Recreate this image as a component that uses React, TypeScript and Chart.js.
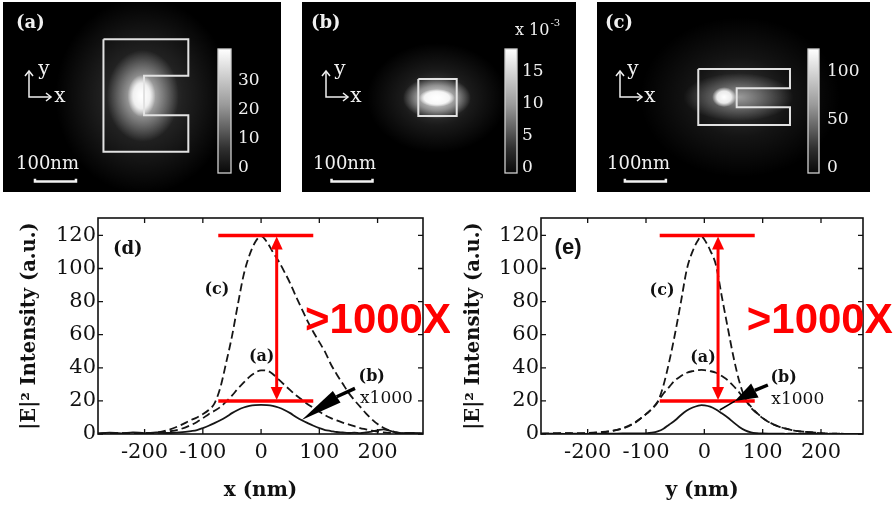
import React, { useEffect, useRef } from "react";
import { Chart, registerables } from "chart.js";

Chart.register(...registerables);

// ================= DATA =================
// Profile (d): |E|^2 along x (nm)
const gridD = [-280, -260, -240, -220, -200, -180, -160, -140, -120, -110, -100, -90, -80, -70, -60, -50, -40, -30, -20, -10, 0, 10, 20, 30, 40, 50, 60, 70, 80, 90, 100, 110, 120, 130, 140, 150, 160, 170, 180, 190, 200, 210, 220, 230, 240, 260, 278];
const dCurveC = [0.2, 0.5, 0.3, 0.6, 0.3, 0.8, 2.4, 5, 8.5, 10, 12, 14.5, 18.5, 28, 43, 59, 78, 96, 108, 116, 119.5, 116, 110, 104.5, 98, 91, 83, 75.5, 68, 61.5, 55.5, 49.5, 42, 36, 30.5, 25, 20.5, 16.5, 12.5, 9, 6, 3.8, 2.2, 1.2, 0.5, 0.3, 0.2];
const dCurveA = [0.2, 0.3, 0.5, 0.3, 0.6, 0.8, 1.5, 2.8, 5.5, 7.3, 9.5, 12, 14, 16.3, 19.5, 23.2, 27.3, 31, 34.5, 37, 38.5, 38.3, 36.3, 33, 29.7, 26.5, 23.4, 20.7, 18, 15.8, 13.5, 11.3, 9.6, 8.2, 6.9, 5.8, 4.7, 3.6, 2.8, 2, 1.4, 1, 0.7, 0.5, 0.4, 0.3, 0.2];
const dCurveB = [0.3, 0.8, 0.4, 1.0, 0.5, 0.9, 0.6, 1.0, 1.8, 2.4, 3.6, 5, 6.6, 8.3, 10.3, 12.6, 14.5, 16, 17, 17.5, 17.6, 17.5, 17, 16, 14.5, 12.6, 10.3, 8.3, 6.6, 5, 3.6, 2.4, 1.8, 1.2, 0.9, 0.6, 0.8, 0.5, 0.9, 1.5, 2.2, 2.8, 2.0, 1.0, 0.5, 0.7, 0.3];

// Profile (e): |E|^2 along y (nm)
const gridE = [-280, -260, -240, -220, -200, -180, -160, -140, -120, -110, -100, -90, -80, -70, -60, -50, -40, -30, -20, -10, -5, 0, 10, 20, 30, 40, 50, 60, 70, 80, 90, 100, 110, 120, 130, 140, 150, 160, 170, 180, 190, 200, 210, 220, 230, 240, 260, 272];
const eCurveC = [0.2, 0.3, 0.5, 0.4, 0.6, 1.1, 1.8, 3.5, 6.8, 9.2, 12, 15.3, 19.3, 29.5, 44, 61, 80, 99.5, 110.5, 117.5, 119.4, 117.5, 111, 102, 83, 64.5, 46.5, 31.7, 21.5, 15.8, 12.6, 9.6, 7.4, 5.6, 4.2, 3.2, 2.4, 1.8, 1.4, 1.1, 0.8, 0.5, 0.3, 0.2, 0.2, 0.1, 0.1, 0.1];
const eCurveA = [0.2, 0.3, 0.4, 0.3, 0.5, 0.9, 1.7, 3.3, 6.5, 9.1, 12, 15, 19.5, 24.5, 28.5, 32.5, 35, 37, 38, 38.6, 38.7, 38.6, 38, 37, 35, 32.5, 29, 25, 20.5, 16.5, 12.8, 9.7, 7.3, 5.5, 4.2, 3.2, 2.4, 1.8, 1.4, 1.1, 0.8, 0.5, 0.3, 0.2, 0.2, 0.1, 0.1, 0.1];
const eCurveB = [0.1, 0.2, 0.1, 0.2, 0.1, 0.2, 0.2, 0.3, 0.3, 0.3, 0.4, 0.8, 1.6, 3.2, 5.8, 8.3, 11.5, 14.2, 16, 17.2, 17.5, 17.3, 16.5, 14.8, 12.5, 10, 7, 4.3, 2.2, 1, 0.5, 0.3, 0.2, 0.2, 0.2, 0.1, 0.2, 0.1, 0.2, 0.1, 0.2, 0.1, 0.1, 0.1, 0.1, 0.1, 0.1, 0.1];

const profileXTicks = [-200, -100, 0, 100, 200];
const profileYTicks = [0, 20, 40, 60, 80, 100, 120];
const enhancementLevels = [120, 20];

// Field maps (nm coordinates inside each panel)
const outlineA = [[245, 91], [452, 91], [452, 180], [344, 180], [344, 276], [452, 276], [452, 365], [245, 365], [245, 91]];
const outlineB = [[283.7, 187.8], [377.3, 187.8], [377.3, 278], [283.7, 278], [283.7, 187.8]];
const outlineC = [[247, 163.4], [470.7, 163.4], [470.7, 210.5], [340.7, 210.5], [340.7, 256.8], [470.7, 256.8], [470.7, 300], [247, 300], [247, 163.4]];
const scaleBarStartsNm = [78, 72, 68];
const scaleBarLengthNm = 100;
const colorbarTicksA = [0, 10, 20, 30];
const colorbarTicksB = [0, 5, 10, 15];
const colorbarTicksC = [0, 50, 100];
const colorbarMaxA = 41;
const colorbarMaxB = 18.6;
const colorbarMaxC = 123;

// ================= STYLE / LAYOUT =================
const SERIF = '"DejaVu Serif", "Liberation Serif", serif';
const SANS = '"Liberation Sans", Arial, sans-serif';
const PX_PER_NM = 0.41;
const PANEL_TOP = 2;
const PANEL_H = 190;
const CB_TOP = 47;
const CB_BOTTOM = 171;
const CB_ZERO = 166;
const SCALEBAR_Y_NM = 438;

const pts = (xs: number[], ys: number[]) => xs.map((v, i) => ({ x: v, y: ys[i] }));

type Glow = { x: number; y: number; rx: number; ry: number; stops: number[][] };

const panels = [
  {
    key: "a", left: 3, width: 278, label: "(a)", labelX: 13, outline: outlineA, barStart: scaleBarStartsNm[0],
    glows: [
      { x: 342, y: 229, rx: 88, ry: 98, stops: [[0, 0.32], [0.45, 0.13], [1, 0]] },
      { x: 341, y: 229, rx: 36, ry: 46, stops: [[0, 0.8], [0.5, 0.38], [1, 0]] },
      { x: 338, y: 229, rx: 14, ry: 21, stops: [[0, 1], [0.6, 0.8], [1, 0]] },
    ] as Glow[],
    cb: { x: 215, w: 13, ticks: colorbarTicksA, max: colorbarMaxA, labelX: 235 },
    icon: { ox: 26, oy: 95, up: 26, right: 22, yx: 41, yy: 68, xx: 57, xy: 95 },
    nmX: 13, exponent: false,
  },
  {
    key: "b", left: 302, width: 274, label: "(b)", labelX: 9, outline: outlineB, barStart: scaleBarStartsNm[1],
    glows: [
      { x: 329, y: 234, rx: 70, ry: 55, stops: [[0, 0.3], [0.5, 0.1], [1, 0]] },
      { x: 329, y: 234, rx: 34, ry: 21, stops: [[0, 0.9], [0.6, 0.45], [1, 0]] },
      { x: 329, y: 234, rx: 18, ry: 9, stops: [[0, 1], [0.7, 0.85], [1, 0]] },
    ] as Glow[],
    cb: { x: 203, w: 12, ticks: colorbarTicksB, max: colorbarMaxB, labelX: 220 },
    icon: { ox: 24, oy: 95, up: 26, right: 22, yx: 38, yy: 68, xx: 54, xy: 95 },
    nmX: 11, exponent: true,
  },
  {
    key: "c", left: 597, width: 273, label: "(c)", labelX: 8, outline: outlineC, barStart: scaleBarStartsNm[2],
    glows: [
      { x: 349, y: 232, rx: 100, ry: 80, stops: [[0, 0.22], [0.5, 0.08], [1, 0]] },
      { x: 345, y: 232, rx: 55, ry: 24, stops: [[0, 0.5], [0.6, 0.2], [1, 0]] },
      { x: 310, y: 232, rx: 12, ry: 10, stops: [[0, 1], [0.6, 0.85], [1, 0]] },
    ] as Glow[],
    cb: { x: 211, w: 11, ticks: colorbarTicksC, max: colorbarMaxC, labelX: 230 },
    icon: { ox: 23, oy: 95, up: 26, right: 22, yx: 36, yy: 68, xx: 53, xy: 95 },
    nmX: 10, exponent: false,
  },
];

function drawOpenArrowHead(ctx: CanvasRenderingContext2D, x: number, y: number, dir: "up" | "right") {
  ctx.beginPath();
  if (dir === "up") {
    ctx.moveTo(x - 4, y + 5); ctx.lineTo(x, y); ctx.lineTo(x + 4, y + 5);
  } else {
    ctx.moveTo(x - 5, y - 4); ctx.lineTo(x, y); ctx.lineTo(x - 5, y + 4);
  }
  ctx.stroke();
}

function makePanelPlugin(p: any) {
  return {
    id: "panelDecor" + p.key,
    beforeDatasetsDraw(chart: any) {
      const { ctx, scales } = chart;
      ctx.save();
      ctx.fillStyle = "#000";
      ctx.fillRect(0, 0, chart.width, chart.height);
      for (const g of p.glows as Glow[]) {
        const cx = scales.x.getPixelForValue(g.x);
        const cy = scales.y.getPixelForValue(g.y);
        ctx.save();
        ctx.translate(cx, cy);
        ctx.scale(1, g.ry / g.rx);
        const grad = ctx.createRadialGradient(0, 0, 0, 0, 0, g.rx);
        for (const [o, a] of g.stops) grad.addColorStop(o, `rgba(255,255,255,${a})`);
        ctx.fillStyle = grad;
        ctx.beginPath();
        ctx.arc(0, 0, g.rx, 0, Math.PI * 2);
        ctx.fill();
        ctx.restore();
      }
      ctx.restore();
    },
    afterDatasetsDraw(chart: any) {
      const { ctx } = chart;
      ctx.save();
      // colorbar
      const cb = p.cb;
      const grad = ctx.createLinearGradient(0, CB_TOP, 0, CB_BOTTOM);
      grad.addColorStop(0, "#ffffff");
      grad.addColorStop(0.45, "#9a9a9a");
      grad.addColorStop(0.8, "#303030");
      grad.addColorStop(1, "#080808");
      ctx.fillStyle = grad;
      ctx.fillRect(cb.x, CB_TOP, cb.w, CB_BOTTOM - CB_TOP);
      ctx.strokeStyle = "#d0d0d0";
      ctx.lineWidth = 1.3;
      ctx.strokeRect(cb.x, CB_TOP, cb.w, CB_BOTTOM - CB_TOP);
      ctx.fillStyle = "#f0f0f0";
      ctx.font = `17px ${SERIF}`;
      ctx.textAlign = "left";
      ctx.textBaseline = "middle";
      for (const t of cb.ticks) {
        const yy = CB_ZERO - (t / cb.max) * (CB_ZERO - CB_TOP);
        ctx.fillText(String(t), cb.labelX, yy);
      }
      if (p.exponent) {
        ctx.textBaseline = "alphabetic";
        ctx.font = `16px ${SERIF}`;
        ctx.fillText("x 10", 213, 33);
        const w = ctx.measureText("x 10").width;
        ctx.font = `10px ${SERIF}`;
        ctx.fillText("-3", 213 + w + 1, 24);
      }
      // panel label
      ctx.font = `bold 18px ${SERIF}`;
      ctx.textBaseline = "middle";
      ctx.fillStyle = "#f0f0f0";
      ctx.fillText(p.label, p.labelX, 21);
      // axes icon
      const ic = p.icon;
      ctx.strokeStyle = "#f0f0f0";
      ctx.lineWidth = 1.5;
      ctx.beginPath();
      ctx.moveTo(ic.ox, ic.oy - ic.up);
      ctx.lineTo(ic.ox, ic.oy);
      ctx.lineTo(ic.ox + ic.right, ic.oy);
      ctx.stroke();
      drawOpenArrowHead(ctx, ic.ox, ic.oy - ic.up, "up");
      drawOpenArrowHead(ctx, ic.ox + ic.right, ic.oy, "right");
      ctx.font = `20px ${SERIF}`;
      ctx.textAlign = "center";
      ctx.fillText("y", ic.yx, ic.yy);
      ctx.fillText("x", ic.xx, ic.xy);
      // scale bar caption
      ctx.textAlign = "left";
      ctx.textBaseline = "alphabetic";
      ctx.font = `18px ${SERIF}`;
      ctx.fillText("100nm", p.nmX, 167);
      ctx.restore();
    },
  };
}

function buildPanelConfig(p: any): any {
  const wNm = p.width / PX_PER_NM;
  const hNm = PANEL_H / PX_PER_NM;
  const y0 = SCALEBAR_Y_NM;
  return {
    type: "scatter",
    data: {
      datasets: [
        {
          label: "outline",
          data: p.outline.map(([x, y]: number[]) => ({ x, y })),
          showLine: true,
          borderColor: "#e2e2e2",
          borderWidth: 2,
          pointRadius: 0,
          tension: 0,
        },
        {
          label: "scale bar",
          data: [
            { x: p.barStart, y: y0 - 7 },
            { x: p.barStart, y: y0 },
            { x: p.barStart + scaleBarLengthNm, y: y0 },
            { x: p.barStart + scaleBarLengthNm, y: y0 - 7 },
          ],
          showLine: true,
          borderColor: "#f2f2f2",
          borderWidth: 2.5,
          pointRadius: 0,
          tension: 0,
        },
      ],
    },
    options: {
      animation: false,
      responsive: false,
      devicePixelRatio: 1,
      layout: { padding: 0 },
      plugins: { legend: { display: false }, tooltip: { enabled: false } },
      scales: {
        x: { type: "linear", display: false, min: 0, max: wNm },
        y: { type: "linear", display: false, min: 0, max: hNm, reverse: true },
      },
    },
    plugins: [makePanelPlugin(p)],
  };
}

// ------- profile charts -------
const profiles = [
  {
    key: "d", left: 0, width: 450, grid: gridD, c: dCurveC, a: dCurveA, b: dCurveB,
    xMin: -280, xMax: 278, yAxisWidth: 98, padRight: 27, axisTitle: "x (nm)", yTitlePad: 19,
    redSpan: [-73.5, 89.6], redArrowX: 26.8, bigTextX: 75.4,
    panelLabel: { text: "(d)", x: -229, y: 111.8, font: `bold 18px ${SERIF}` },
    labels: [
      { text: "(c)", x: -76, y: 87, align: "center" },
      { text: "(a)", x: 1, y: 46.7, align: "center" },
      { text: "(b)", x: 190, y: 34.6, align: "center" },
    ],
    mult: { x: 169.8, y: 21.5 },
    arrow: { tail: [161.2, 27.6], base: [129.8, 22.5], tip: [69.7, 8.5], end: null as null | number[], half: 7 },
  },
  {
    key: "e", left: 450, width: 444, grid: gridE, c: eCurveC, a: eCurveA, b: eCurveB,
    xMin: -280, xMax: 272, yAxisWidth: 91, padRight: 31, axisTitle: "y (nm)", yTitlePad: 13,
    redSpan: [-76.5, 86.4], redArrowX: 23.5, bigTextX: 72.7,
    panelLabel: { text: "(e)", x: -233.7, y: 112.2, font: `bold 22px ${SANS}` },
    labels: [
      { text: "(c)", x: -72.5, y: 86.4, align: "center" },
      { text: "(a)", x: -2.2, y: 46.1, align: "center" },
      { text: "(b)", x: 136, y: 34, align: "center" },
    ],
    mult: { x: 114.9, y: 21 },
    arrow: { tail: [108.9, 29.6], base: [86.6, 26.3], tip: [52.3, 19.9], end: [26.4, 14.5] as null | number[], half: 8 },
  },
];

function makeProfilePlugin(p: any) {
  return {
    id: "profileDecor" + p.key,
    afterDatasetsDraw(chart: any) {
      const { ctx, chartArea, scales } = chart;
      const sx = scales.x, sy = scales.y;
      const X = (v: number) => sx.getPixelForValue(v);
      const Y = (v: number) => sy.getPixelForValue(v);
      ctx.save();
      // frame
      ctx.strokeStyle = "#111";
      ctx.lineWidth = 1.6;
      ctx.strokeRect(chartArea.left, chartArea.top, chartArea.right - chartArea.left, chartArea.bottom - chartArea.top);
      // inward ticks on all sides
      ctx.lineWidth = 1.3;
      ctx.beginPath();
      for (const t of profileXTicks) {
        const px = X(t);
        ctx.moveTo(px, chartArea.bottom); ctx.lineTo(px, chartArea.bottom - 5);
        ctx.moveTo(px, chartArea.top); ctx.lineTo(px, chartArea.top + 5);
      }
      for (const t of profileYTicks) {
        const py = Y(t);
        ctx.moveTo(chartArea.left, py); ctx.lineTo(chartArea.left + 5, py);
        ctx.moveTo(chartArea.right, py); ctx.lineTo(chartArea.right - 5, py);
      }
      ctx.stroke();

      // red double arrow
      const ax = X(p.redArrowX);
      const yTop = Y(enhancementLevels[0]);
      const yBot = Y(enhancementLevels[1]);
      ctx.strokeStyle = "#ff0000";
      ctx.fillStyle = "#ff0000";
      ctx.lineWidth = 3;
      ctx.beginPath();
      ctx.moveTo(ax, yTop + 10); ctx.lineTo(ax, yBot - 10);
      ctx.stroke();
      ctx.beginPath();
      ctx.moveTo(ax, yTop + 1); ctx.lineTo(ax - 6, yTop + 14); ctx.lineTo(ax + 6, yTop + 14); ctx.closePath();
      ctx.fill();
      ctx.beginPath();
      ctx.moveTo(ax, yBot - 1); ctx.lineTo(ax - 6, yBot - 14); ctx.lineTo(ax + 6, yBot - 14); ctx.closePath();
      ctx.fill();

      // >1000X
      ctx.font = `bold 42px ${SANS}`;
      ctx.textAlign = "left";
      ctx.textBaseline = "alphabetic";
      ctx.fillText(">1000X", X(p.bigTextX), Y(61));

      // black arrow pointing to curve (b)
      const ar = p.arrow;
      const tx = X(ar.tail[0]), ty = Y(ar.tail[1]);
      const bx = X(ar.base[0]), by = Y(ar.base[1]);
      const hx = X(ar.tip[0]), hy = Y(ar.tip[1]);
      ctx.strokeStyle = "#000";
      ctx.fillStyle = "#000";
      ctx.lineWidth = 3.5;
      ctx.beginPath(); ctx.moveTo(tx, ty); ctx.lineTo(bx, by); ctx.stroke();
      const dx = hx - bx, dy = hy - by;
      const len = Math.hypot(dx, dy) || 1;
      const nx = -dy / len, ny = dx / len;
      ctx.beginPath();
      ctx.moveTo(bx + nx * ar.half, by + ny * ar.half);
      ctx.lineTo(hx, hy);
      ctx.lineTo(bx - nx * ar.half, by - ny * ar.half);
      ctx.closePath();
      ctx.fill();
      if (ar.end) {
        ctx.lineWidth = 1.5;
        ctx.beginPath(); ctx.moveTo(hx, hy); ctx.lineTo(X(ar.end[0]), Y(ar.end[1])); ctx.stroke();
      }

      // curve labels
      ctx.fillStyle = "#111";
      ctx.textBaseline = "middle";
      ctx.textAlign = "center";
      ctx.font = `bold 16px ${SERIF}`;
      for (const l of p.labels) ctx.fillText(l.text, X(l.x), Y(l.y));
      ctx.textAlign = "left";
      ctx.font = `17px ${SERIF}`;
      ctx.fillText("x1000", X(p.mult.x), Y(p.mult.y));
      ctx.font = p.panelLabel.font;
      ctx.textAlign = "center";
      ctx.fillText(p.panelLabel.text, X(p.panelLabel.x), Y(p.panelLabel.y));
      ctx.restore();
    },
  };
}

function buildProfileConfig(p: any): any {
  const curve = "#161616";
  return {
    type: "line",
    data: {
      datasets: [
        {
          label: "level 120",
          data: [{ x: p.redSpan[0], y: enhancementLevels[0] }, { x: p.redSpan[1], y: enhancementLevels[0] }],
          borderColor: "#ff0000", borderWidth: 3.5, pointRadius: 0, order: 0,
        },
        {
          label: "level 20",
          data: [{ x: p.redSpan[0], y: enhancementLevels[1] }, { x: p.redSpan[1], y: enhancementLevels[1] }],
          borderColor: "#ff0000", borderWidth: 3.5, pointRadius: 0, order: 0,
        },
        {
          label: "(b) x1000",
          data: pts(p.grid, p.b),
          borderColor: curve, borderWidth: 1.8, pointRadius: 0, cubicInterpolationMode: "monotone", order: 1,
        },
        {
          label: "(a)",
          data: pts(p.grid, p.a),
          borderColor: curve, borderWidth: 1.8, borderDash: [8, 4], pointRadius: 0, cubicInterpolationMode: "monotone", order: 1,
        },
        {
          label: "(c)",
          data: pts(p.grid, p.c),
          borderColor: curve, borderWidth: 1.8, borderDash: [8, 4], pointRadius: 0, cubicInterpolationMode: "monotone", order: 1,
        },
      ],
    },
    options: {
      animation: false,
      responsive: false,
      devicePixelRatio: 1,
      layout: { padding: { left: 0, right: p.padRight, top: 18, bottom: 0 } },
      plugins: { legend: { display: false }, tooltip: { enabled: false } },
      scales: {
        x: {
          type: "linear",
          min: p.xMin,
          max: p.xMax,
          afterBuildTicks: (s: any) => { s.ticks = profileXTicks.map((v) => ({ value: v })); },
          afterFit: (s: any) => { s.height = 76; },
          grid: { display: false, drawTicks: false },
          border: { display: false },
          ticks: {
            color: "#111", padding: 6, maxRotation: 0, autoSkip: false,
            font: { family: SERIF, size: 21 },
            callback: (v: any) => String(v),
          },
          title: {
            display: true, text: p.axisTitle, color: "#111",
            font: { family: SERIF, size: 20, weight: "bold" },
            padding: { top: 0, bottom: 7 },
          },
        },
        y: {
          type: "linear",
          min: 0,
          max: 130.5,
          afterBuildTicks: (s: any) => { s.ticks = profileYTicks.map((v) => ({ value: v })); },
          afterFit: (s: any) => { s.width = p.yAxisWidth; },
          grid: { display: false, drawTicks: false },
          border: { display: false },
          ticks: {
            color: "#111", padding: 2, autoSkip: false,
            font: { family: SERIF, size: 21 },
            callback: (v: any) => String(v),
          },
          title: {
            display: true, text: "|E|² Intensity (a.u.)", color: "#111",
            font: { family: SERIF, size: 19.5, weight: "bold" },
            padding: { top: p.yTitlePad, bottom: 0 },
          },
        },
      },
    },
    plugins: [makeProfilePlugin(p)],
  };
}

function ChartCanvas({ build, left, top, width, height }: any) {
  const ref = useRef<HTMLCanvasElement | null>(null);
  useEffect(() => {
    if (!ref.current) return;
    const chart = new Chart(ref.current, build());
    return () => chart.destroy();
  }, []);
  return (
    <canvas
      ref={ref}
      width={width}
      height={height}
      style={{ position: "absolute", left, top, width, height, display: "block" }}
    />
  );
}

export default function App() {
  return (
    <div style={{ position: "absolute", left: 0, top: 0, width: 894, height: 510, background: "#fff", overflow: "hidden" }}>
      {panels.map((p) => (
        <ChartCanvas key={p.key} build={() => buildPanelConfig(p)} left={p.left} top={PANEL_TOP} width={p.width} height={PANEL_H} />
      ))}
      {profiles.map((p) => (
        <ChartCanvas
          key={p.key}
          build={() => buildProfileConfig({ ...p, yTitlePad: p.key === "d" ? 18.5 : 12.5 })}
          left={p.left}
          top={200}
          width={p.width}
          height={310}
        />
      ))}
    </div>
  );
}
